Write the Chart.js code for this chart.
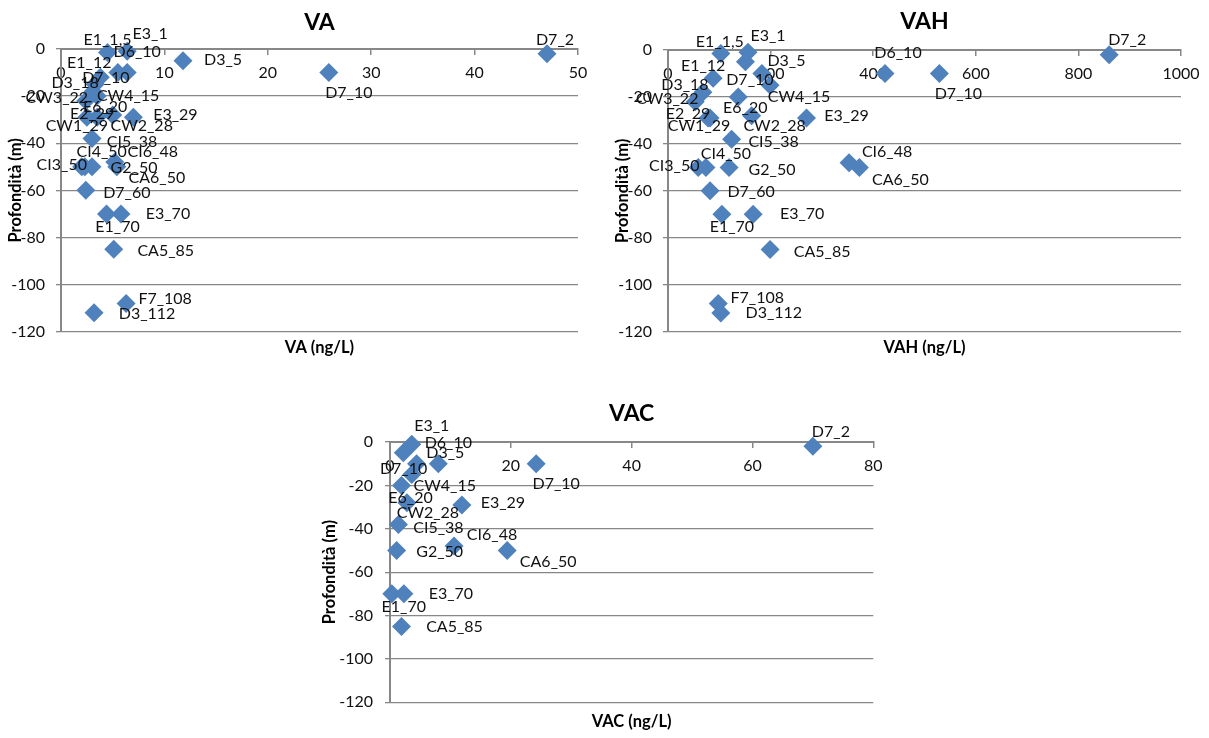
<!DOCTYPE html>
<html lang="it">
<head>
<meta charset="utf-8">
<title>VA, VAH, VAC – profili in profondità</title>
<script src="https://cdn.jsdelivr.net/npm/chart.js@4.4.1/dist/chart.umd.min.js"></script>
<style>
  html, body { margin: 0; padding: 0; background: #fff; }
  #page { position: relative; width: 1209px; height: 738px; overflow: hidden; background: #fff; }
  canvas { position: absolute; }
</style>
</head>
<body>
<div id="page">
  <canvas id="va" width="600" height="370" style="left:0;top:0"></canvas>
  <canvas id="vah" width="602" height="370" style="left:607px;top:0"></canvas>
  <canvas id="vac" width="584" height="348" style="left:315px;top:390px"></canvas>
</div>
<script>
// ---- data -------------------------------------------------------------
const depthTicks = [-120, -100, -80, -60, -40, -20, 0];

const vaTicks  = [0, 10, 20, 30, 40, 50];
const vahTicks = [0, 200, 400, 600, 800, 1000];
const vacTicks = [0, 20, 40, 60, 80];

// samples measured for VA and VAH (same stations, same order)
const abSamples = ['E1_1,5', 'E3_1', 'D3_5', 'D7_2', 'D6_10', 'D7_10', 'D7_10', 'E1_12', 'D3_18',
  'CW4_15', 'CW3_22', 'E6_20', 'E2_29', 'CW1_29', 'CW2_28', 'E3_29', 'CI5_38', 'CI3_50', 'CI4_50',
  'CI6_48', 'G2_50', 'CA6_50', 'D7_60', 'E1_70', 'E3_70', 'CA5_85', 'F7_108', 'D3_112'];
const abDepths = [-1.5, -1, -5, -2, -10, -10, -10, -12, -18, -15, -22, -20, -29, -29, -28, -29, -38,
  -50, -50, -48, -50, -50, -60, -70, -70, -85, -108, -112];

const vaValues = [4.5, 6.4, 11.8, 47, 6.4, 5.5, 25.9, 3.8, 3.1, 3.3, 2.4, 3.5, 3.5, 2.5, 5.0, 7.0,
  3.0, 2.3, 2.0, 5.2, 3.0, 5.4, 2.4, 4.4, 5.8, 5.1, 6.3, 3.2];
const vahValues = [103, 156, 151, 860, 423, 183, 529, 88, 68, 199, 53, 137, 78, 82, 163, 270,
  124, 59, 74, 353, 119, 373, 82, 105, 166, 199, 98, 103];

// samples measured for VAC
const vacSamples = ['E3_1', 'D6_10', 'D3_5', 'D7_10', 'D7_10', 'D7_2', 'CW4_15', 'E6_20', 'CW2_28',
  'E3_29', 'CI5_38', 'CI6_48', 'G2_50', 'CA6_50', 'E1_70', 'E3_70', 'CA5_85'];
const vacDepths = [-1, -10, -5, -10, -10, -2, -15, -20, -28, -29, -38, -48, -50, -50, -70, -70, -85];
const vacValues = [3.6, 8.0, 2.2, 4.4, 24.2, 70, 3.6, 1.9, 2.8, 11.9, 1.4, 10.6, 1.1, 19.4, 0.3, 2.3, 1.9];

// ---- label placement (pixel offsets of each label from its marker) ----
const vaLabelOffsets = [[0,-13],[23,-18],[40,-1],[8,-14],[10,-21],[-12,5],[20,20],[-11,-14],[-18,-9],
  [33,12],[-29,-3],[8,11],[-5,-3],[-10,9],[29,11],[42,-2],[40,3],[-23,-2],[20,-15],[38,-10],[42,1],
  [40,11],[41,2],[11,13],[47,0],[52,2],[39,-5],[53,1]];
const vahLabelOffsets = [[-1,-12],[20,-17],[41,-1],[18,-15],[13,-21],[-12,6],[19,20],[-10,-12],[-18,-7],
  [29,12],[-28,-3],[7,11],[-20,-4],[-11,8],[23,10],[40,-2],[42,3],[-24,-2],[20,-14],[38,-11],[43,2],
  [41,12],[41,1],[10,13],[49,0],[52,2],[39,-6],[53,0]];
const vacLabelOffsets = [[20,-18],[10,-21],[42,0],[-13,5],[20,20],[18,-14],[33,11],[9,12],[21,10],
  [41,-2],[40,3],[38,-11],[43,1],[41,11],[12,13],[47,0],[53,0]];

// ---- styling ----------------------------------------------------------
const FONT = 'Lato, "Open Sans", "DejaVu Sans", sans-serif';
const INK = '#111111';
const GRID = '#878787';
const MARK = '#4F81BD';

// writes the sample name next to every marker
const pointLabels = {
  id: 'pointLabels',
  afterDatasetsDraw(chart, args, opts) {
    const { ctx } = chart;
    const meta = chart.getDatasetMeta(0);
    ctx.save();
    ctx.font = '16px ' + FONT;
    ctx.fillStyle = INK;
    ctx.textAlign = 'center';
    ctx.textBaseline = 'middle';
    meta.data.forEach((pt, i) => {
      const off = opts.offsets[i] || [12, 0];
      ctx.fillText(opts.labels[i], pt.x + off[0], pt.y + off[1]);
    });
    ctx.restore();
  }
};

function depthChart(id, cfg) {
  const { title, axisTitle, samples, values, depths, ticks, offsets, box } = cfg;
  return new Chart(document.getElementById(id), {
    type: 'scatter',
    data: {
      datasets: [{
        label: title,
        data: values.map((v, i) => ({ x: v, y: depths[i] })),
        xAxisID: 'x',
        yAxisID: 'y',
        pointStyle: 'rectRot',
        pointRadius: 9.5,
        pointHoverRadius: 9.5,
        backgroundColor: MARK,
        borderWidth: 0,
        clip: false
      }]
    },
    options: {
      responsive: false,
      animation: false,
      devicePixelRatio: 1,
      events: [],
      layout: { padding: { left: 0, right: box.padRight, top: 0, bottom: 0 } },
      plugins: {
        legend: { display: false },
        tooltip: { enabled: false },
        title: {
          display: true, text: title, fullSize: false, color: '#000',
          font: { family: FONT, size: 23, weight: 'bold' },
          padding: { top: box.titleTop, bottom: box.titleBottom }
        },
        pointLabels: { labels: samples, offsets: offsets }
      },
      scales: {
        x: {
          type: 'linear',
          position: { y: 0 },
          min: ticks[0], max: ticks[ticks.length - 1],
          ticks: {
            stepSize: ticks[1] - ticks[0], color: INK, font: { family: FONT, size: 16 }, padding: 9, maxRotation: 0,
            callback: (v) => String(v)
          },
          grid: { display: true, drawOnChartArea: false, drawTicks: true, tickLength: 5, color: GRID, lineWidth: 1.5 },
          border: { display: true, color: GRID, width: 2 }
        },
        xTitle: {
          type: 'linear',
          axis: 'x',
          position: 'bottom',
          ticks: { display: false },
          grid: { display: false, drawTicks: false },
          border: { display: false },
          title: {
            display: true, text: axisTitle, color: '#000',
            font: { family: FONT, size: 16.5, weight: 'bold' },
            padding: { top: box.xTitleTop, bottom: box.xTitleBottom }
          }
        },
        y: {
          type: 'linear',
          position: 'left',
          min: depthTicks[0], max: depthTicks[depthTicks.length - 1],
          ticks: {
            stepSize: depthTicks[1] - depthTicks[0], color: INK, font: { family: FONT, size: 16 }, padding: box.yTickPad,
            callback: (v) => String(v)
          },
          grid: { color: GRID, lineWidth: 1.3, tickLength: 5 },
          border: { display: true, color: GRID, width: 2 },
          title: {
            display: true, text: 'Profondità (m)', color: '#000',
            font: { family: FONT, size: 16.5, weight: 'bold' },
            padding: { top: box.yTitlePad, bottom: 0 }
          },
          afterFit(scale) { scale.width = box.yWidth; }
        }
      }
    },
    plugins: [pointLabels]
  });
}

function drawAll() {
  depthChart('va', {
    title: 'VA', axisTitle: 'VA (ng/L)',
    samples: abSamples, values: vaValues, depths: abDepths, ticks: vaTicks, offsets: vaLabelOffsets,
    box: { padRight: 22, titleTop: 9, titleBottom: 12.4, xTitleTop: 6.5, xTitleBottom: 12,
           yWidth: 61, yTickPad: 11, yTitlePad: 5.6 }
  });
  depthChart('vah', {
    title: 'VAH', axisTitle: 'VAH (ng/L)',
    samples: abSamples, values: vahValues, depths: abDepths, ticks: vahTicks, offsets: vahLabelOffsets,
    box: { padRight: 28, titleTop: 7.5, titleBottom: 14.9, xTitleTop: 6.5, xTitleBottom: 12,
           yWidth: 61, yTickPad: 11, yTitlePad: 5.6 }
  });
  depthChart('vac', {
    title: 'VAC', axisTitle: 'VAC (ng/L)',
    samples: vacSamples, values: vacValues, depths: vacDepths, ticks: vacTicks, offsets: vacLabelOffsets,
    box: { padRight: 25.7, titleTop: 10.2, titleBottom: 14.2, xTitleTop: 9.9, xTitleBottom: 6,
           yWidth: 75, yTickPad: 12, yTitlePad: 5 }
  });
}

if (document.fonts && document.fonts.load) {
  Promise.all([
    document.fonts.load('16px Lato'),
    document.fonts.load('bold 16px Lato')
  ]).then(drawAll, drawAll);
} else {
  drawAll();
}
</script>
</body>
</html>
